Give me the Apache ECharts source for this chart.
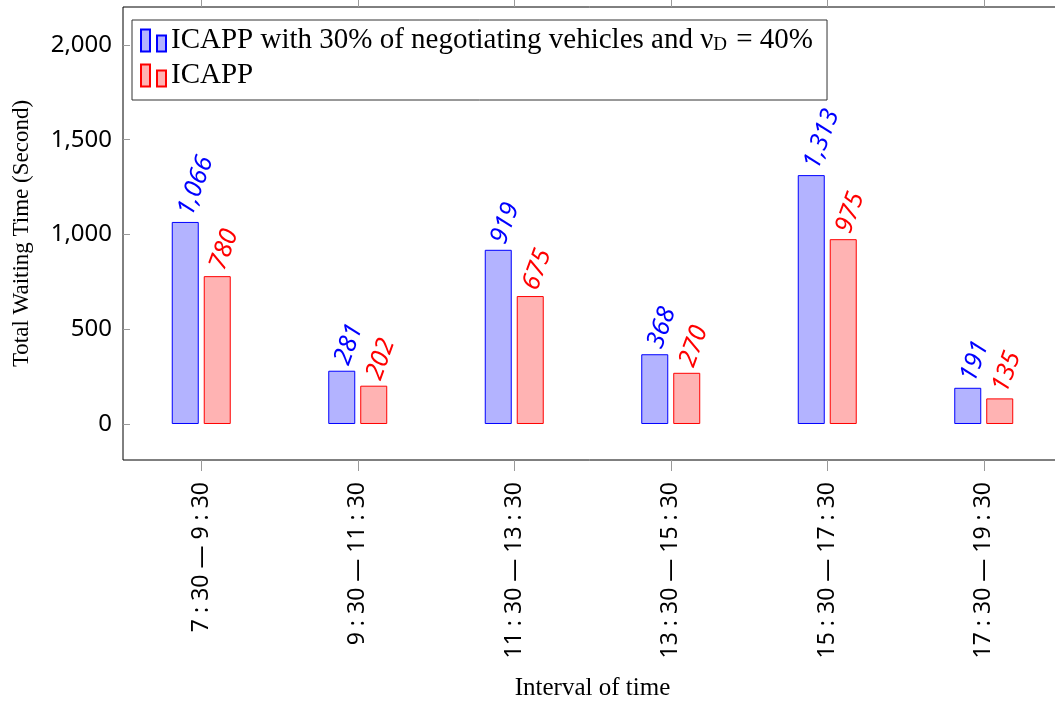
<!DOCTYPE html>
<html>
<head>
<meta charset="utf-8">
<script src="https://cdn.jsdelivr.net/npm/echarts@6/dist/echarts.min.js"></script>
<style>
  html, body { margin: 0; padding: 0; background: #fff; }
  #chart { width: 1055px; height: 704px; }
</style>
</head>
<body>
<div id="chart"></div>
<script>
// time intervals on the x axis
var categories = ['7 : 30 \u2014 9 : 30', '9 : 30 \u2014 11 : 30', '11 : 30 \u2014 13 : 30',
  '13 : 30 \u2014 15 : 30', '15 : 30 \u2014 17 : 30', '17 : 30 \u2014 19 : 30']
var negotiatingValues = [1066, 281, 919, 368, 1313, 191]
var icappValues = [780, 202, 675, 270, 975, 135]
var yTicks = [0, 500, 1000, 1500, 2000]

var seriesNames = ['ICAPP with 30% of negotiating vehicles and \u03BDD = 40%', 'ICAPP']

var serif = '"Liberation Serif", "DejaVu Serif", serif'
var sans = '"Noto Sans", "DejaVu Sans", sans-serif'
var legendIcon = 'path://M0,0H9V22H0Z M16,6H25V22H16Z'

function fmt(v) {
  return v.toLocaleString('en-US')
}

function barSeries(name, data, fill, stroke) {
  return {
    name: name,
    type: 'bar',
    data: data,
    barWidth: 27,
    barGap: '18.5%',
    itemStyle: { color: fill, borderColor: stroke, borderWidth: 1 },
    label: {
      show: true,
      position: 'top',
      distance: 7,
      rotate: 70,
      align: 'left',
      verticalAlign: 'middle',
      color: stroke,
      fontFamily: sans,
      fontStyle: 'italic',
      fontSize: 25,
      formatter: function (p) { return fmt(p.value) }
    }
  }
}

var chart = echarts.init(document.getElementById('chart'))
chart.setOption({
  animation: false,
  backgroundColor: '#fff',
  grid: {
    left: 123,
    right: -7,
    top: 7,
    bottom: 244,
    show: true,
    borderColor: '#000',
    borderWidth: 1,
    outerBoundsMode: 'none'
  },
  legend: {
    orient: 'vertical',
    left: 132,
    top: 20,
    data: seriesNames,
    icon: legendIcon,
    itemWidth: 25,
    itemHeight: 22,
    itemGap: 6,
    padding: [6, 14, 10, 8],
    borderColor: '#333',
    borderWidth: 1,
    backgroundColor: '#fff',
    formatter: function (name) {
      if (name === 'ICAPP') return '{t|ICAPP}'
      return '{t|ICAPP with 30% of negotiating vehicles and \u03BD}{s|D}{t| = 40%}'
    },
    textStyle: {
      rich: {
        t: { fontFamily: serif, fontSize: 29, lineHeight: 27, color: '#000' },
        s: { fontFamily: serif, fontSize: 19, lineHeight: 27, color: '#000', padding: [9, 2, 0, 0] }
      }
    }
  },
  xAxis: [{
    type: 'category',
    data: categories,
    position: 'bottom',
    axisLine: { show: false, onZero: false },
    axisTick: { show: true, alignWithLabel: true, length: 11, lineStyle: { color: '#999' } },
    axisLabel: { rotate: 90, margin: 22, color: '#000', fontFamily: sans, fontSize: 23 },
    name: 'Interval of time',
    nameLocation: 'middle',
    nameGap: 216,
    nameTextStyle: { fontFamily: serif, fontSize: 25, color: '#000' }
  }, {
    type: 'category',
    data: categories,
    position: 'top',
    axisLine: { show: false, onZero: false },
    axisTick: { show: true, alignWithLabel: true, length: 7, lineStyle: { color: '#999' } },
    axisLabel: { show: false }
  }],
  yAxis: [{
    type: 'value',
    min: -190,
    max: 2200,
    axisLine: { show: false },
    splitLine: { show: false },
    axisTick: { show: true, inside: true, length: 7, customValues: yTicks, lineStyle: { color: '#999' } },
    axisLabel: {
      customValues: yTicks,
      margin: 11,
      color: '#000',
      fontFamily: sans,
      fontSize: 24,
      formatter: function (v) { return fmt(v) }
    },
    name: 'Total Waiting Time (Second)',
    nameLocation: 'middle',
    nameRotate: 90,
    nameGap: 90,
    nameTextStyle: { fontFamily: serif, fontSize: 23, color: '#000' }
  }, {
    type: 'value',
    position: 'right',
    min: -190,
    max: 2200,
    axisLine: { show: false },
    splitLine: { show: false },
    axisTick: { show: true, inside: true, length: 7, customValues: yTicks, lineStyle: { color: '#999' } },
    axisLabel: { show: false }
  }],
  series: [
    barSeries(seriesNames[0], negotiatingValues, '#b3b3ff', '#0000ff'),
    barSeries(seriesNames[1], icappValues, '#ffb3b3', '#ff0000')
  ]
})
</script>
</body>
</html>
